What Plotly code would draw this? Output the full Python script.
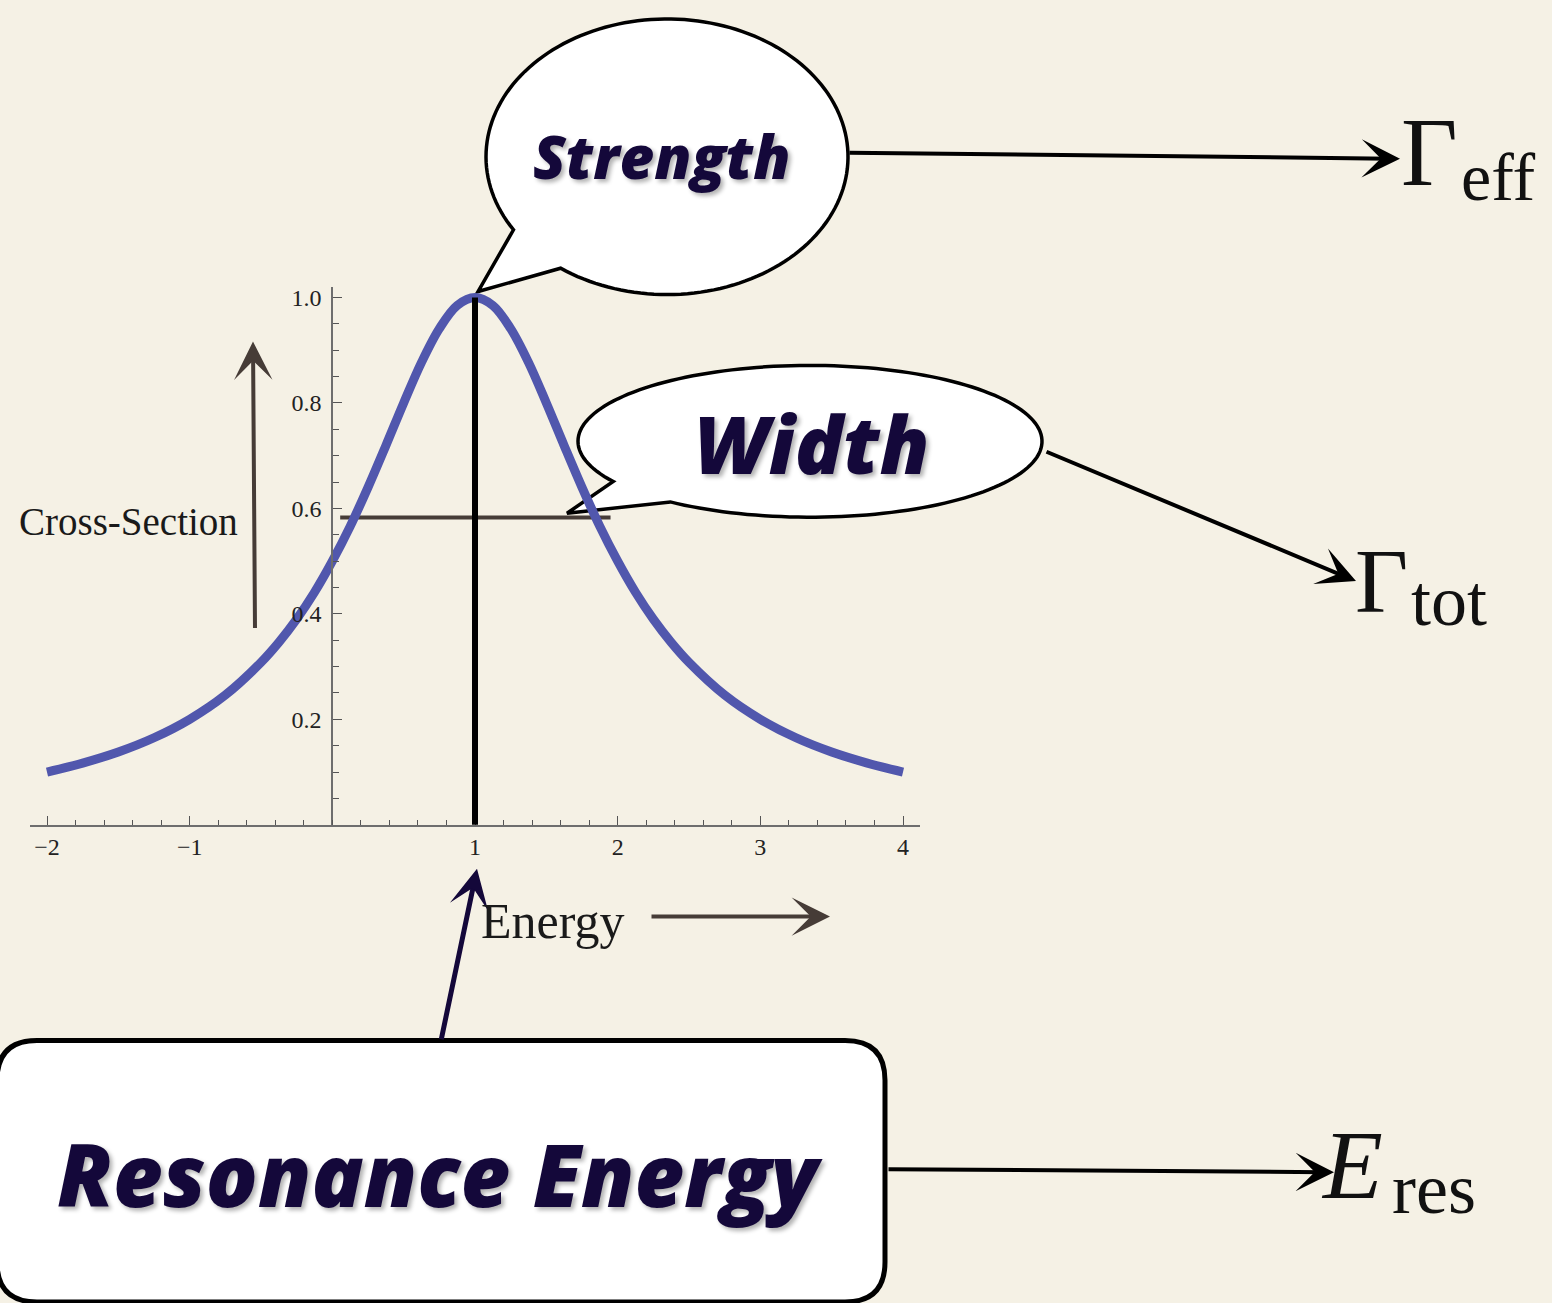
import numpy as np
import plotly.graph_objects as go

W, H = 1552, 1303

# ---- data ----
energy = [-2.0, -1.75, -1.5, -1.25, -1.0, -0.75, -0.5, -0.375, -0.25, -0.125, 0.0, 0.125, 0.25,
          0.375, 0.5, 0.625, 0.75, 0.875, 1.0, 1.125, 1.25, 1.375, 1.5, 1.625, 1.75, 1.875,
          2.0, 2.125, 2.25, 2.375, 2.5, 2.75, 3.0, 3.25, 3.5, 3.75, 4.0]
cross_section = [0.100, 0.117, 0.138, 0.165, 0.200, 0.246, 0.308, 0.346, 0.390, 0.441, 0.500, 0.566, 0.640,
                 0.719, 0.800, 0.877, 0.941, 0.985, 1.000, 0.985, 0.941, 0.877, 0.800, 0.719, 0.640, 0.566,
                 0.500, 0.441, 0.390, 0.346, 0.308, 0.246, 0.200, 0.165, 0.138, 0.117, 0.100]
x_tick_vals = [-2, -1, 1, 2, 3, 4]
x_tick_text = ["\u22122", "\u22121", "1", "2", "3", "4"]
y_tick_vals = [0.2, 0.4, 0.6, 0.8, 1.0]
y_tick_text = ["0.2", "0.4", "0.6", "0.8", "1.0"]
peak_energy = [1.0]
peak_value = [1.0]
half_level = [0.583]
half_span = [0.055, 1.95]

BG = "#F5F1E5"
NAVY = "#14083a"
BROWN = "#463c37"
SERIF = "Liberation Serif, DejaVu Serif, serif"
SANS = "Open Sans, Lato, sans-serif"


def P(x, y):
    return f"{x / W:.5f},{1 - y / H:.5f}"


def bubble_path(cx, cy, rx, ry, t0, t1, tip):
    t = np.radians(np.linspace(t0, t1, 160))
    xs = cx + rx * np.cos(t)
    ys = cy + ry * np.sin(t)
    pts = [P(a, b) for a, b in zip(xs, ys)]
    return "M" + " L".join(pts) + " L" + P(*tip) + " Z"


def round_rect(x0, y0, x1, y1, r):
    return ("M" + P(x0 + r, y0) + " L" + P(x1 - r, y0) + " Q" + P(x1, y0) + " " + P(x1, y0 + r)
            + " L" + P(x1, y1 - r) + " Q" + P(x1, y1) + " " + P(x1 - r, y1)
            + " L" + P(x0 + r, y1) + " Q" + P(x0, y1) + " " + P(x0, y1 - r)
            + " L" + P(x0, y0 + r) + " Q" + P(x0, y0) + " " + P(x0 + r, y0) + " Z")


fig = go.Figure()
fig.add_trace(go.Scatter(x=energy, y=cross_section, mode="lines",
                         line=dict(color="#5157ad", width=9, shape="spline", smoothing=1.0),
                         hoverinfo="skip", showlegend=False))

scale = (903 - 47) / 6.0
x_lo = 47 - 0.12 * scale
x_hi = 903 + 0.12 * scale
y_top_val = (824 - 285) / 528.0

fig.update_layout(
    width=W, height=H, margin=dict(l=0, r=0, t=0, b=0),
    paper_bgcolor=BG, plot_bgcolor=BG, showlegend=False,
    xaxis=dict(domain=[x_lo / W, x_hi / W], range=[-2.12, 4.12], anchor="y",
               showgrid=False, zeroline=False, showline=True, linecolor="#6e6e6e", linewidth=1.5,
               tickmode="array", tickvals=x_tick_vals, ticktext=x_tick_text,
               ticks="inside", ticklen=9, tickwidth=1, tickcolor="#555555",
               tickfont=dict(family=SERIF, size=24, color="#222222"),
               minor=dict(tickmode="linear", tick0=0, dtick=0.2, ticks="inside", ticklen=5,
                          tickwidth=1, tickcolor="#555555", showgrid=False)),
    yaxis=dict(domain=[1 - 824 / H, 1 - 285 / H], range=[0, y_top_val], anchor="free",
               position=332 / W, showgrid=False, zeroline=False, showline=True,
               linecolor="#6e6e6e", linewidth=1.5,
               tickmode="array", tickvals=y_tick_vals, ticktext=y_tick_text,
               ticks="inside", ticklen=9, tickwidth=1, tickcolor="#555555",
               ticklabelstandoff=5,
               tickfont=dict(family=SERIF, size=24, color="#222222"),
               minor=dict(tickmode="linear", tick0=0, dtick=0.05, ticks="inside", ticklen=6,
                          tickwidth=1, tickcolor="#555555", showgrid=False)),
)

shapes = []
shapes.append(dict(type="path", xref="paper", yref="paper", layer="below",
                   path=bubble_path(667, 155, 181, 138, 148, 486, (478, 290)),
                   fillcolor="white", line=dict(color="black", width=3.5)))
shapes.append(dict(type="path", xref="paper", yref="paper", layer="below",
                   path=bubble_path(810, 440, 232, 76, 148, 487, (567, 512)),
                   fillcolor="white", line=dict(color="black", width=3.5)))
shapes.append(dict(type="path", xref="paper", yref="paper", layer="below",
                   path=round_rect(-3, 1040, 885, 1302, 40),
                   fillcolor="white", line=dict(color="black", width=5)))
shapes.append(dict(type="line", xref="x", yref="y", layer="below",
                   x0=half_span[0], x1=half_span[1], y0=half_level[0], y1=half_level[0],
                   line=dict(color=BROWN, width=4)))
shapes.append(dict(type="line", xref="x", yref="y", layer="above",
                   x0=0, x1=0, y0=-0.023, y1=0, line=dict(color="#6e6e6e", width=1.5)))
shapes.append(dict(type="line", xref="x", yref="y", layer="above",
                   x0=peak_energy[0], x1=peak_energy[0], y0=-0.083, y1=peak_value[0],
                   line=dict(color="black", width=6)))
fig.update_layout(shapes=shapes)

ann = []


def arrow(head, tail, color, width, size=1.6):
    ann.append(dict(xref="paper", yref="paper", x=head[0] / W, y=1 - head[1] / H,
                    ax=tail[0] - head[0], ay=tail[1] - head[1], axref="pixel", ayref="pixel",
                    text="", showarrow=True, arrowhead=3, arrowsize=size, arrowwidth=width,
                    arrowcolor=color, standoff=0, startstandoff=0))


def label(text, x, y, size, family, color, xanchor="left", italic=False, weight="normal",
          shadow=None):
    f = dict(family=family, size=size, color=color, weight=weight,
             style="italic" if italic else "normal")
    if shadow:
        f["shadow"] = shadow
    ann.append(dict(xref="paper", yref="paper", x=x / W, y=1 - y / H, text=text,
                    showarrow=False, xanchor=xanchor, yanchor="middle", font=f, borderpad=0))


arrow((253, 340), (255, 628), BROWN, 4)
arrow((830, 916), (650, 916), BROWN, 4)
arrow((477, 868), (441, 1040), NAVY, 5, 1.3)
arrow((1400, 157), (848, 151), "black", 4)
arrow((1356, 580), (1045, 450), "black", 4)
arrow((1334, 1172), (887, 1169), "black", 4)

label("Cross-Section", 18, 520, 39, SERIF, "#1a1a1a")
label("Energy", 480, 920, 50, SERIF, "#1a1a1a")
shadow = "3px 3px 4px rgba(0,0,0,0.30)"
label("Strength", 662, 154, 60, SANS, NAVY, "center", True, 800, shadow)
label("Width", 811, 441, 80, SANS, NAVY, "center", True, 800, shadow)
label("Resonance Energy", 440, 1173, 86, SANS, NAVY, "center", True, 800, shadow)

label("\u0393", 1400, 150, 98, SERIF, "#111111")
label("eff", 1460, 175, 68, SERIF, "#111111")
label("\u0393", 1354, 580, 92, SERIF, "#111111")
label("tot", 1410, 600, 72, SERIF, "#111111")
label("E", 1320, 1165, 98, SERIF, "#111111", italic=True)
label("res", 1391, 1189, 72, SERIF, "#111111")

fig.update_layout(annotations=ann)

fig.write_html("out.html", config={"displayModeBar": False},
               post_script="document.body.style.margin='0px';")
